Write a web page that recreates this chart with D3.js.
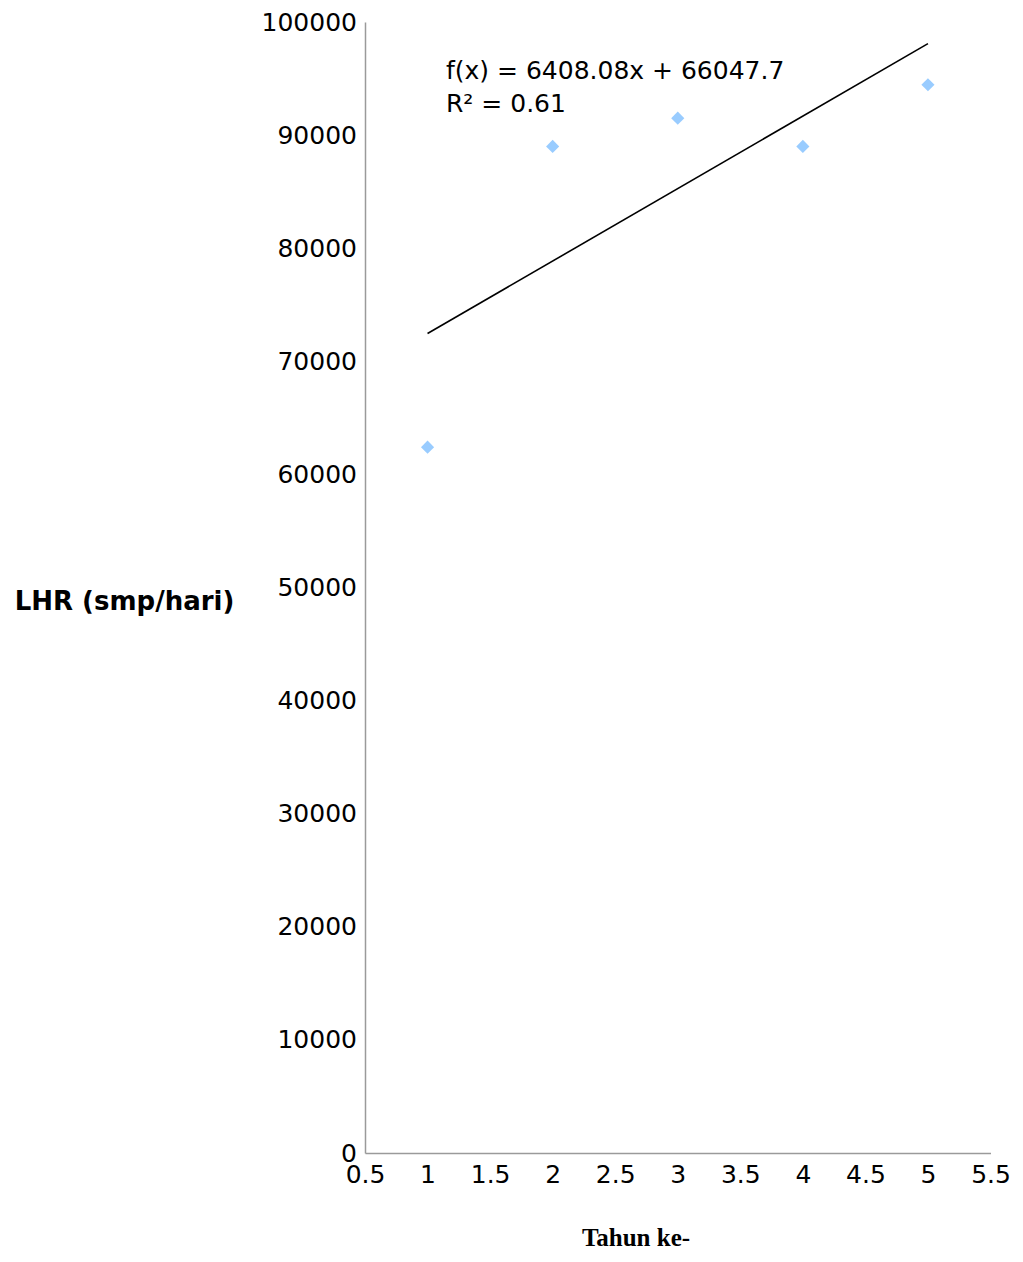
<!DOCTYPE html>
<html>
<head>
<meta charset="utf-8">
<script src="https://cdn.jsdelivr.net/npm/d3@7"></script>
<style>
  html, body { margin: 0; padding: 0; background: #fff; }
  svg { display: block; }
</style>
</head>
<body>
<svg id="chart" width="1023" height="1262"></svg>
<script>
// LHR per year (smp/hari)
const years = [1, 2, 3, 4, 5];
const lhr = [62410, 89000, 91500, 89000, 94450];
const xTicks = [0.5, 1, 1.5, 2, 2.5, 3, 3.5, 4, 4.5, 5, 5.5];
const yTicks = [0, 10000, 20000, 30000, 40000, 50000, 60000, 70000, 80000, 90000, 100000];
const trendSlope = 6408.08;
const trendIntercept = 66047.7;
const trendText = ["f(x) = 6408.08x + 66047.7", "R² = 0.61"];

const svg = d3.select("#chart");
const plotLeft = 365, plotRight = 990.5, plotTop = 22, plotBottom = 1153;

const x = d3.scaleLinear().domain([0.5, 5.5]).range([plotLeft, plotRight]);
const y = d3.scaleLinear().domain([0, 100000]).range([plotBottom, plotTop]);

const font = "DejaVu Sans, sans-serif";

// Axes (no tick marks, gray lines)
const xAxis = svg.append("g")
  .attr("transform", `translate(0,${plotBottom})`)
  .call(d3.axisBottom(x).tickValues(xTicks).tickSize(0).tickPadding(12)
    .tickFormat(d => String(d)));
const yAxis = svg.append("g")
  .attr("transform", `translate(${plotLeft},0)`)
  .call(d3.axisLeft(y).tickValues(yTicks).tickSize(0).tickPadding(8)
    .tickFormat(d => String(d)));

[xAxis, yAxis].forEach(g => {
  g.select(".domain").attr("stroke", "#9a9a9a").attr("stroke-width", 1.5);
  g.selectAll("text").attr("font-family", font).attr("font-size", 25).attr("fill", "#000");
});
yAxis.selectAll("text").attr("dy", "0.32em");

// Linear trend line over the data range
svg.append("line")
  .attr("x1", x(1)).attr("y1", y(trendSlope * 1 + trendIntercept))
  .attr("x2", x(5)).attr("y2", y(trendSlope * 5 + trendIntercept))
  .attr("stroke", "#000").attr("stroke-width", 1.6);

// Diamond markers
const diamond = d3.symbol().type(d3.symbolDiamond2).size(110);
svg.append("g").selectAll("path")
  .data(years.map((yr, i) => [yr, lhr[i]]))
  .join("path")
  .attr("d", diamond)
  .attr("transform", d => `translate(${x(d[0])},${y(d[1])})`)
  .attr("fill", "#99ccff");

// Equation label
const eq = svg.append("text")
  .attr("x", 446).attr("y", 79)
  .attr("font-family", font).attr("font-size", 25).attr("fill", "#000");
eq.selectAll("tspan").data(trendText).join("tspan")
  .attr("x", 446).attr("dy", (d, i) => i === 0 ? 0 : 33)
  .text(d => d);

// Axis titles
svg.append("text")
  .attr("x", 124.5).attr("y", 601).attr("dy", "0.35em")
  .attr("text-anchor", "middle")
  .attr("font-family", font).attr("font-weight", "bold").attr("font-size", 26)
  .text("LHR (smp/hari)");

svg.append("text")
  .attr("x", 636).attr("y", 1246)
  .attr("text-anchor", "middle")
  .attr("font-family", "Liberation Serif, serif").attr("font-weight", "bold").attr("font-size", 25)
  .text("Tahun ke-");
</script>
</body>
</html>
